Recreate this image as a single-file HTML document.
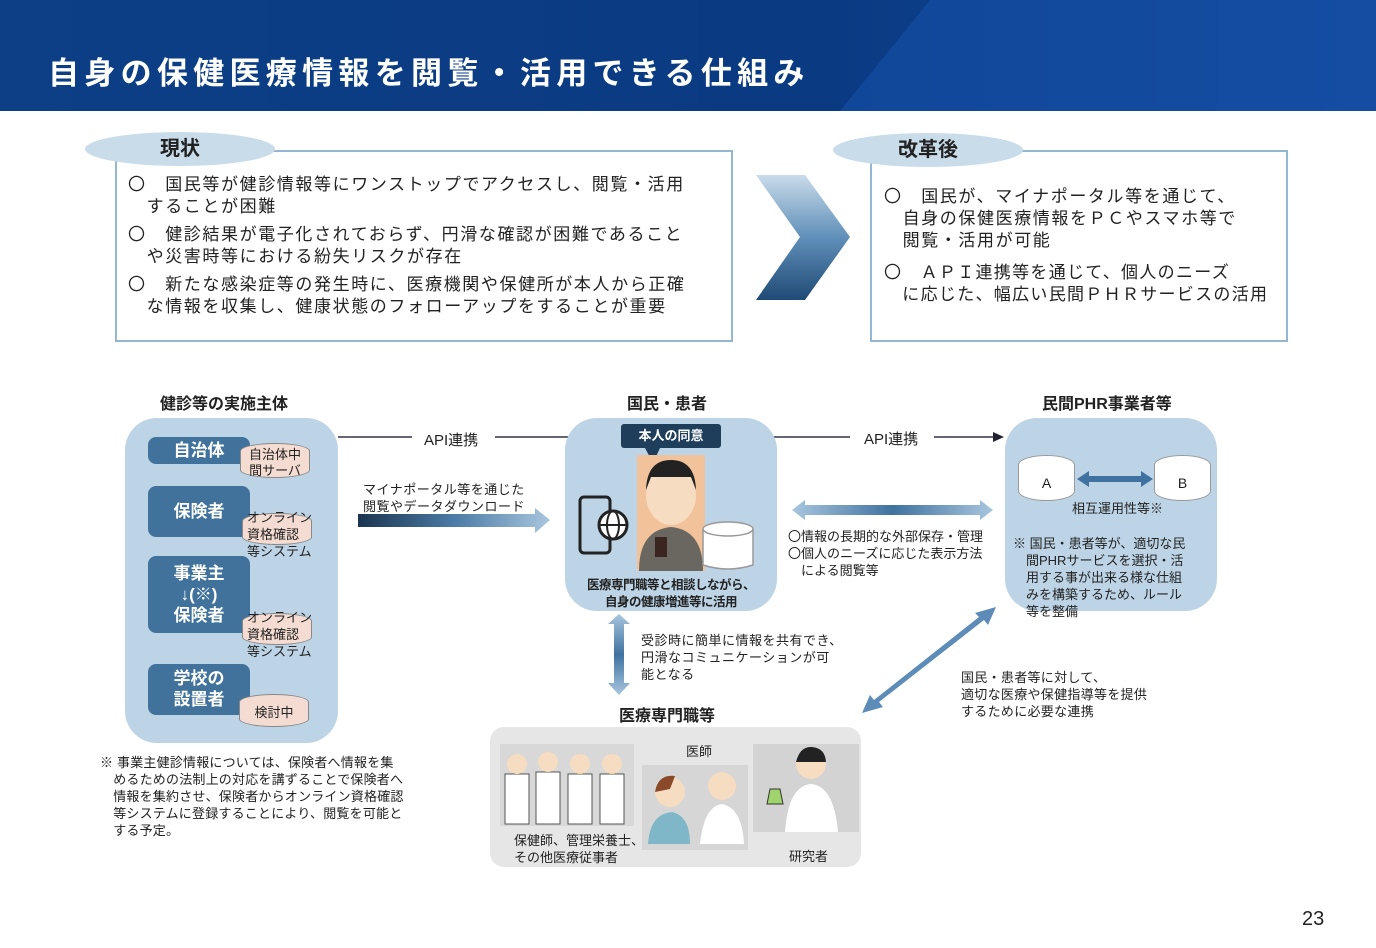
<!DOCTYPE html>
<html><head><meta charset="utf-8"><style>
*{margin:0;padding:0;box-sizing:border-box}
body{width:1376px;height:948px;background:#fff;position:relative;overflow:hidden;font-family:"Liberation Sans","Noto Sans CJK JP",sans-serif;color:#222}
.a{position:absolute;white-space:nowrap}
.hdr{left:0;top:0;width:1376px;height:111px;background:linear-gradient(90deg,#0c3f86,#0a3a82 60%,#124a9a)}
.title{left:48px;top:48px;font-size:31px;font-weight:bold;color:#fff;letter-spacing:5.3px}
.box{border:2px solid #93b6d3;background:#fff}
.pill{background:#c9dcea;border-radius:50%;font-weight:bold;font-size:20px;text-align:center;line-height:34px}
.t17{font-size:17px;line-height:22px;letter-spacing:1.6px}
.panel{background:#bdd4e6;border-radius:32px}
.bb{background:#41729c;color:#fff;font-weight:bold;font-size:17px;text-align:center;border-radius:8px}
.cyl{background:#f5dcd2;border:1.5px solid #888;border-radius:50%/8px;font-size:13px;line-height:16px;text-align:center}
.wcyl{background:#fff;border:1.5px solid #999;border-radius:50%/10px}
.h{font-weight:bold;font-size:16px}
.s{font-size:13px;line-height:17px}
</style></head><body>
<div class="a hdr"></div>
<svg class="a" style="left:0;top:0" width="1376" height="111"><polygon points="840,111 930,0 1376,0 1376,111" fill="#1650a8" opacity=".6"/></svg>
<div class="a title">自身の保健医療情報を閲覧・活用できる仕組み</div>

<div class="a box" style="left:115px;top:150px;width:618px;height:192px"></div>
<div class="a pill" style="left:85px;top:132px;width:190px;height:34px">現状</div>
<div class="a t17" style="left:128px;top:174px">〇　国民等が健診情報等にワンストップでアクセスし、閲覧・活用<br>　することが困難</div>
<div class="a t17" style="left:128px;top:224px">〇　健診結果が電子化されておらず、円滑な確認が困難であること<br>　や災害時等における紛失リスクが存在</div>
<div class="a t17" style="left:128px;top:274px">〇　新たな感染症等の発生時に、医療機関や保健所が本人から正確<br>　な情報を収集し、健康状態のフォローアップをすることが重要</div>

<svg class="a" style="left:750px;top:170px" width="105" height="135"><defs><linearGradient id="g1" x1="0" y1="0" x2="0" y2="1"><stop offset="0" stop-color="#c9dbea"/><stop offset=".5" stop-color="#5f8fb8"/><stop offset="1" stop-color="#1f4a75"/></linearGradient></defs><polygon points="6,5 55,5 100,67 55,130 6,130 50,67" fill="url(#g1)"/></svg>

<div class="a box" style="left:870px;top:150px;width:418px;height:192px"></div>
<div class="a pill" style="left:833px;top:133px;width:190px;height:34px">改革後</div>
<div class="a t17" style="left:884px;top:186px">〇　国民が、マイナポータル等を通じて、<br>　自身の保健医療情報をＰＣやスマホ等で<br>　閲覧・活用が可能</div>
<div class="a t17" style="left:884px;top:262px;letter-spacing:1.3px">〇　ＡＰＩ連携等を通じて、個人のニーズ<br>　に応じた、幅広い民間ＰＨＲサービスの活用</div>

<div class="a h" style="left:160px;top:390px">健診等の実施主体</div>
<div class="a h" style="left:627px;top:390px">国民・患者</div>
<div class="a h" style="left:1042px;top:390px">民間PHR事業者等</div>

<div class="a panel" style="left:125px;top:418px;width:213px;height:325px"></div>
<div class="a bb" style="left:148px;top:437px;width:102px;height:27px;line-height:27px">自治体</div>
<div class="a bb" style="left:148px;top:486px;width:102px;height:51px;line-height:51px">保険者</div>
<div class="a bb" style="left:148px;top:556px;width:102px;height:77px;line-height:21px;padding-top:7px">事業主<br>↓(※)<br>保険者</div>
<div class="a bb" style="left:148px;top:664px;width:102px;height:51px;line-height:21px;padding-top:4px">学校の<br>設置者</div>
<div class="a cyl" style="left:240px;top:443px;width:70px;height:35px;padding-top:3px">自治体中<br>間サーバ</div>
<div class="a cyl" style="left:242px;top:513px;width:70px;height:32px"></div>
<div class="a s" style="left:247px;top:509px">オンライン<br>資格確認<br>等システム</div>
<div class="a cyl" style="left:242px;top:613px;width:70px;height:32px"></div>
<div class="a s" style="left:247px;top:609px">オンライン<br>資格確認<br>等システム</div>
<div class="a cyl" style="left:239px;top:694px;width:70px;height:33px;line-height:36px">検討中</div>

<div class="a s" style="left:100px;top:754px;letter-spacing:.2px">※ 事業主健診情報については、保険者へ情報を集<br>　めるための法制上の対応を講ずることで保険者へ<br>　情報を集約させ、保険者からオンライン資格確認<br>　等システムに登録することにより、閲覧を可能と<br>　する予定。</div>

<svg class="a" style="left:0;top:0" width="1376" height="948">
<defs>
<linearGradient id="g2" x1="0" x2="1"><stop offset="0" stop-color="#1c3550"/><stop offset=".5" stop-color="#4b7ba6"/><stop offset="1" stop-color="#a8c6de"/></linearGradient>
<linearGradient id="g3" x1="0" x2="1"><stop offset="0" stop-color="#a8c6de"/><stop offset=".5" stop-color="#3f72a0"/><stop offset="1" stop-color="#a8c6de"/></linearGradient>
<linearGradient id="g4" x1="0" y1="0" x2="0" y2="1"><stop offset="0" stop-color="#a8c6de"/><stop offset=".5" stop-color="#3f72a0"/><stop offset="1" stop-color="#a8c6de"/></linearGradient>
</defs>
<line x1="338" y1="437" x2="412" y2="437" stroke="#334" stroke-width="1.5"/>
<line x1="495" y1="437" x2="850" y2="437" stroke="#334" stroke-width="1.5"/>
<line x1="934" y1="437" x2="995" y2="437" stroke="#334" stroke-width="1.5"/>
<polygon points="1004,437 993,432 993,442" fill="#223"/>
<polygon points="358,514 535,514 535,508 550,520 535,533 535,527 358,527" fill="url(#g2)"/>
<polygon points="792,510 805,500 805,505 980,505 980,500 993,510 980,520 980,515 805,515 805,520" fill="url(#g3)"/>
<polygon points="619,614 630,624 624,624 624,683 630,683 619,695 608,683 614,683 614,624 608,624" fill="url(#g4)"/>
<polygon points="996,607 988,625 984,620 879,702 883,707 862,713 870,695 874,700 979,617 975,613" fill="#5d8cb8"/>
</svg>
<div class="a" style="left:424px;top:429px;font-size:15px">API連携</div>
<div class="a" style="left:864px;top:428px;font-size:15px">API連携</div>
<div class="a s" style="left:363px;top:481px;letter-spacing:.5px">マイナポータル等を通じた<br>閲覧やデータダウンロード</div>

<div class="a panel" style="left:565px;top:418px;width:212px;height:193px"></div>
<div class="a" style="left:621px;top:424px;width:100px;height:24px;background:#1f3e5c;color:#fff;font-weight:bold;font-size:13px;text-align:center;line-height:24px;border-radius:3px">本人の同意</div>
<svg class="a" style="left:575px;top:445px" width="200" height="130">
<polygon points="70,3 85,3 78,18" fill="#1f3e5c"/>
<rect x="62" y="10" width="68" height="116" fill="#f2c39a"/>
<ellipse cx="96" cy="50" rx="25" ry="30" fill="#f6dcc0"/>
<path d="M71 45 Q72 15 96 15 Q120 15 121 45 L116 32 L76 32Z" fill="#222"/>
<path d="M64 126 Q64 85 96 82 Q128 85 128 126Z" fill="#6a6660"/>
<rect x="80" y="92" width="12" height="20" fill="#3a2520"/>
<rect x="5" y="52" width="30" height="56" rx="4" fill="none" stroke="#222" stroke-width="3"/>
<circle cx="38" cy="80" r="14" fill="#fff" stroke="#222" stroke-width="3"/>
<line x1="24" y1="80" x2="52" y2="80" stroke="#222" stroke-width="2"/>
<ellipse cx="38" cy="80" rx="6" ry="14" fill="none" stroke="#222" stroke-width="2"/>
<path d="M128 84 L128 120 Q153 128 178 120 L178 84" fill="#fff" stroke="#999" stroke-width="1.5"/>
<ellipse cx="153" cy="84" rx="25" ry="7" fill="#fff" stroke="#999" stroke-width="1.5"/>
</svg>
<div class="a" style="left:571px;top:577px;font-size:12.5px;font-weight:bold;line-height:17px;text-align:center;width:200px;letter-spacing:-.5px">医療専門職等と相談しながら、<br>自身の健康増進等に活用</div>

<div class="a s" style="left:788px;top:528px">〇情報の長期的な外部保存・管理<br>〇個人のニーズに応じた表示方法<br>　による閲覧等</div>

<div class="a panel" style="left:1005px;top:418px;width:212px;height:193px"></div>
<div class="a wcyl" style="left:1018px;top:455px;width:57px;height:46px;text-align:center;line-height:54px;font-size:14px">A</div>
<div class="a wcyl" style="left:1154px;top:455px;width:57px;height:46px;text-align:center;line-height:54px;font-size:14px">B</div>
<svg class="a" style="left:1075px;top:470px" width="80" height="20"><polygon points="2,9 14,1 14,6 66,6 66,1 78,9 66,17 66,12 14,12 14,17" fill="#3f72a0"/></svg>
<div class="a s" style="left:1072px;top:500px">相互運用性等※</div>
<div class="a s" style="left:1013px;top:535px">※ 国民・患者等が、適切な民<br>　間PHRサービスを選択・活<br>　用する事が出来る様な仕組<br>　みを構築するため、ルール<br>　等を整備</div>

<div class="a s" style="left:641px;top:632px;letter-spacing:.5px">受診時に簡単に情報を共有でき、<br>円滑なコミュニケーションが可<br>能となる</div>
<div class="a s" style="left:961px;top:669px;letter-spacing:.3px">国民・患者等に対して、<br>適切な医療や保健指導等を提供<br>するために必要な連携</div>
<div class="a h" style="left:619px;top:702px">医療専門職等</div>

<div class="a" style="left:490px;top:727px;width:371px;height:140px;background:#e6e6e6;border-radius:14px"></div>
<div class="a" style="left:500px;top:744px;width:134px;height:82px;background:#d8d8d8"></div>
<div class="a" style="left:642px;top:765px;width:106px;height:85px;background:#d6d6d6"></div>
<div class="a" style="left:753px;top:744px;width:106px;height:88px;background:#d3d3d3"></div>
<svg class="a" style="left:500px;top:744px" width="360" height="110">
<g fill="#fff" stroke="#555"><rect x="5" y="30" width="24" height="50"/><rect x="36" y="28" width="24" height="52"/><rect x="68" y="30" width="24" height="50"/><rect x="100" y="30" width="24" height="50"/></g>
<g fill="#f6dcc0"><circle cx="17" cy="20" r="10"/><circle cx="48" cy="18" r="10"/><circle cx="80" cy="20" r="10"/><circle cx="112" cy="20" r="10"/></g>
<circle cx="170" cy="48" r="15" fill="#f6dcc0"/><path d="M155 48 Q158 30 175 32 L170 45Z" fill="#8a4a2a"/>
<path d="M148 100 Q150 70 172 68 Q190 72 190 100Z" fill="#7fb7c8"/>
<circle cx="222" cy="42" r="14" fill="#f6dcc0"/>
<path d="M200 100 Q204 62 222 60 Q242 64 244 100Z" fill="#fff"/>
<circle cx="311" cy="20" r="15" fill="#f6dcc0"/><path d="M296 18 Q300 2 312 3 Q325 4 326 18Z" fill="#222"/>
<path d="M285 88 Q288 42 311 40 Q334 42 338 88Z" fill="#fff"/>
<path d="M270 45 L280 45 L283 60 L267 60Z" fill="#9ed46b" stroke="#333"/>
</svg>
<div class="a s" style="left:686px;top:743px">医師</div>
<div class="a s" style="left:514px;top:832px">保健師、管理栄養士、<br>その他医療従事者</div>
<div class="a s" style="left:789px;top:848px">研究者</div>

<div class="a" style="left:1302px;top:908px;font-size:20px">23</div>
</body></html>
